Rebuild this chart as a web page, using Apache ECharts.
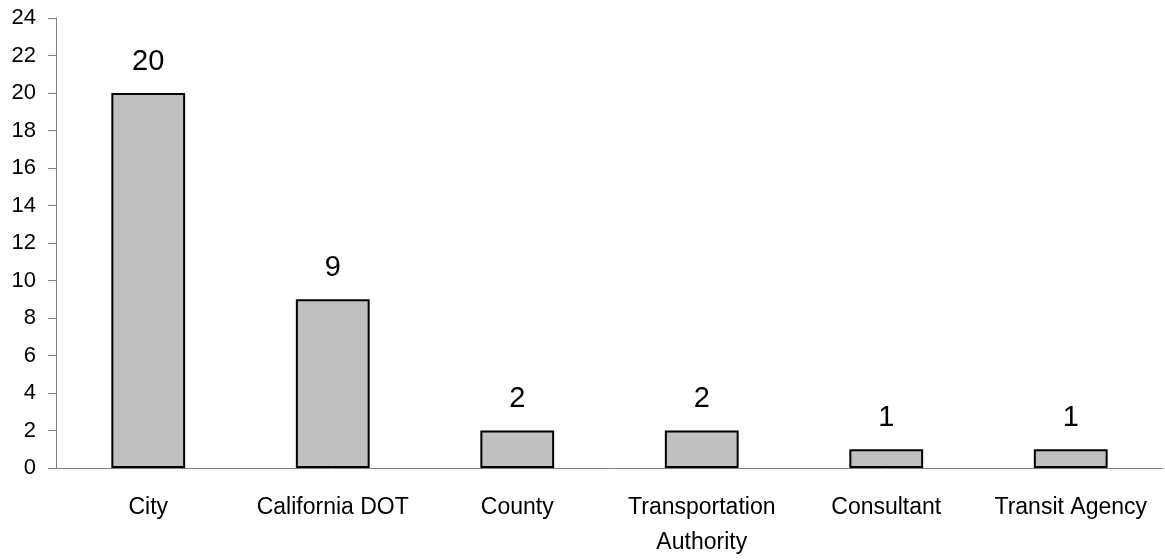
<!DOCTYPE html>
<html>
<head>
<meta charset="utf-8">
<script src="https://cdn.jsdelivr.net/npm/echarts@6/dist/echarts.min.js"></script>
<style>
    html, body { margin: 0; padding: 0; background: #fff; }
    #chart { width: 1165px; height: 560px; }
</style>
</head>
<body>
<div id="chart"></div>
<script>
// categories and counts
const categories = ['City', 'California DOT', 'County', 'Transportation\nAuthority', 'Consultant', 'Transit Agency'];
const counts = [20, 9, 2, 2, 1, 1];
const yTicks = [0, 24, 2]; // min, max, step

const font = 'Arial, "Liberation Sans", sans-serif';

const myChart = echarts.init(document.getElementById('chart'));

const option = {
    animation: false,
    grid: {
        left: 56,
        right: 2,
        top: 18,
        bottom: 87
    },
    xAxis: {
        type: 'category',
        data: categories,
        axisLine: { lineStyle: { color: '#808080', width: 1 } },
        axisTick: { show: false },
        axisLabel: {
            color: '#000',
            fontFamily: font,
            fontSize: 23,
            lineHeight: 35,
            margin: 22,
            interval: 0
        }
    },
    yAxis: {
        type: 'value',
        min: yTicks[0],
        max: yTicks[1],
        interval: yTicks[2],
        splitLine: { show: false },
        axisLine: { show: true, lineStyle: { color: '#808080', width: 1 } },
        axisTick: { show: true, length: 8, lineStyle: { color: '#808080' } },
        axisLabel: {
            color: '#000',
            fontFamily: font,
            fontSize: 22,
            margin: 20
        }
    },
    series: [{
        type: 'bar',
        data: counts,
        barWidth: '40%',
        itemStyle: {
            color: '#c0c0c0',
            borderColor: '#000',
            borderWidth: 2
        },
        label: {
            show: true,
            position: 'top',
            distance: 17,
            color: '#000',
            fontFamily: font,
            fontSize: 29
        }
    }]
};

myChart.setOption(option);
</script>
</body>
</html>
